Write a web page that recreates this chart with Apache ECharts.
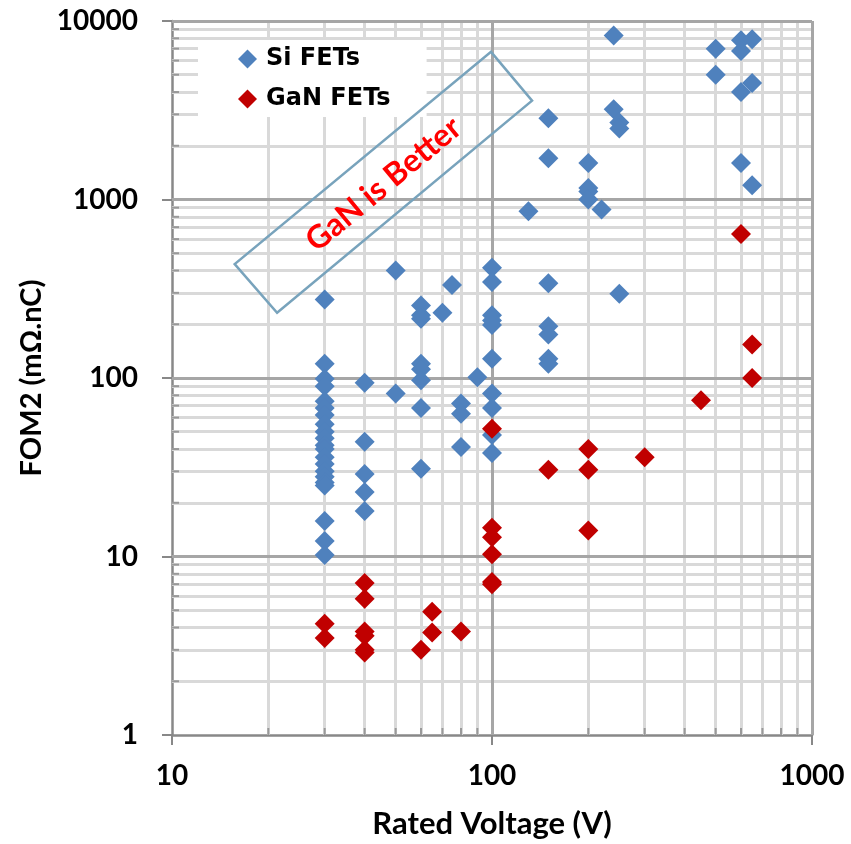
<!DOCTYPE html>
<html>
<head>
<meta charset="utf-8">
<script src="https://cdn.jsdelivr.net/npm/echarts@6/dist/echarts.min.js"></script>
<style>html,body{margin:0;padding:0;background:#fff}#chart{width:851px;height:844px}</style>
</head>
<body>
<div id="chart"></div>
<script>
// ---- data ----
const siVoltage = [
  30,30,30,30,30,30,30,30,30,30,30,30,30,30,30,30,30,30,30,30,30,
  40,40,40,40,40,
  50,50,
  60,60,60,60,60,60,60,60,
  70,
  75,
  80,80,80,
  90,
  100,100,100,100,100,100,100,100,100,100,
  130,
  150,150,150,150,150,150,150,
  200,200,200,200,
  220,
  240,240,
  250,250,250,
  500,500,
  600,600,600,600,
  650,650,650
];
const siFOM = [
  275,120,99,90,74,68,62,55,50,46,42,40,36,33,30,28,26,25,15.8,12.2,10.2,
  94,44,29,23,18,
  400,82,
  255,225,215,120,112,97,68,31,
  232,
  332,
  72,63,41,
  101,
  415,345,225,210,198,128,82,68,48,38,
  860,
  2850,1700,340,195,175,128,120,
  1600,1160,1110,1000,
  880,
  8300,3200,
  2700,2500,296,
  7000,5000,
  7800,6800,4000,1600,
  7900,4500,1200
];
const ganVoltage = [
  30,30,
  40,40,40,40,40,40,
  60,
  65,65,
  80,
  100,100,100,100,100,100,
  150,
  200,200,200,
  300,
  450,
  600,
  650,650
];
const ganFOM = [
  4.2,3.5,
  7.1,5.8,3.8,3.6,3.0,2.9,
  3.0,
  4.9,3.75,
  3.8,
  52,14.5,12.8,10.3,7.2,7.0,
  30.6,
  40,30.6,14,
  36,
  75,
  640,
  154,100
];
const seriesNames = ['Si FETs', 'GaN FETs'];
const xTickLabels = ['10', '100', '1000'];
const yTickLabels = ['1', '10', '100', '1000', '10000'];
const xMajorGrid = [100, 1000];
const yMajorGrid = [10, 100, 1000, 10000];
const xMinorGrid = [20,30,40,50,60,70,80,90,200,300,400,500,600,700,800,900];
const yMinorGrid = [2,3,4,5,6,7,8,9,20,30,40,50,60,70,80,90,200,300,400,500,600,700,800,900,2000,3000,4000,5000,6000,7000,8000,9000];
// annotation box corners (voltage, FOM) and its text
const boxVoltage = [99.3, 133.4, 21.3, 15.7];
const boxFOM = [6715, 3580, 232, 435];
const boxText = 'GaN is Better';

// ---- chart ----
const chart = echarts.init(document.getElementById('chart'), null, {renderer: 'canvas'});
const labelFont = {fontFamily: 'Lato, "Open Sans", sans-serif', fontWeight: 'bold', fontSize: 28, color: '#000'};
const gridLineBase = {silent: true, z: 1, symbol: ['none', 'none'], label: {show: false}, animation: false, emphasis: {disabled: true}};

const minorTickData = xMinorGrid.map(v => [v, 1, 0]).concat(yMinorGrid.map(v => [10, v, 1]));

const option = {
  animation: false,
  backgroundColor: '#fff',
  grid: {left: 172, right: 39, top: 21, bottom: 106, containLabel: false},
  legend: {
    data: seriesNames,
    orient: 'vertical',
    left: 198, top: 40,
    padding: [7, 36, 6, 40],
    backgroundColor: '#fff',
    itemGap: 16,
    itemWidth: 19, itemHeight: 19,
    icon: 'diamond',
    z: 4,
    textStyle: {fontFamily: '"DejaVu Sans", sans-serif', fontWeight: 'bold', fontSize: 24, lineHeight: 24, color: '#000', padding: [0, 0, 0, 4]}
  },
  xAxis: {
    type: 'log', logBase: 10, min: 10, max: 1000,
    name: 'Rated Voltage (V)', nameLocation: 'middle', nameGap: 73,
    nameTextStyle: {fontFamily: 'Lato, "Open Sans", sans-serif', fontWeight: 'bold', fontSize: 31, color: '#000'},
    axisLine: {show: true, onZero: false, lineStyle: {color: '#888', width: 2.5}},
    axisTick: {show: true, inside: false, length: 10, lineStyle: {color: '#888', width: 2}},
    axisLabel: Object.assign({margin: 27, formatter: v => xTickLabels.find(t => +t === Math.round(v)) || ''}, labelFont),
    splitLine: {show: false}
  },
  yAxis: {
    type: 'log', logBase: 10, min: 1, max: 10000,
    name: 'FOM2 (mΩ.nC)', nameLocation: 'middle', nameGap: 124,
    nameTextStyle: {fontFamily: 'Lato, "Open Sans", sans-serif', fontWeight: 'bold', fontSize: 29, color: '#000'},
    axisLine: {show: true, onZero: false, lineStyle: {color: '#888', width: 2.5}},
    axisTick: {show: true, inside: false, length: 10, lineStyle: {color: '#888', width: 2}},
    axisLabel: Object.assign({margin: 34, formatter: v => yTickLabels.find(t => +t === Math.round(v)) || ''}, labelFont),
    splitLine: {show: false}
  },
  series: [
    {
      type: 'line', name: 'minorGrid', data: [], silent: true, z: 1,
      markLine: Object.assign({}, gridLineBase, {
        lineStyle: {color: '#D9D9D9', width: 3, type: 'solid'},
        data: xMinorGrid.map(v => ({xAxis: v})).concat(yMinorGrid.map(v => ({yAxis: v})))
      })
    },
    {
      type: 'line', name: 'majorGrid', data: [], silent: true, z: 1,
      markLine: Object.assign({}, gridLineBase, {
        lineStyle: {color: '#A6A6A6', width: 3, type: 'solid'},
        data: xMajorGrid.map(v => ({xAxis: v})).concat(yMajorGrid.map(v => ({yAxis: v})))
      })
    },
    {
      type: 'custom', name: 'minorTicks', silent: true, z: 2, clip: false,
      data: minorTickData,
      encode: {x: 0, y: 1},
      renderItem: function (params, api) {
        const p = api.coord([api.value(0), api.value(1)]);
        const kind = api.value(2);
        const end = kind === 0 ? [p[0], p[1] - 7] : [p[0] + 7, p[1]];
        return {type: 'line', shape: {x1: p[0], y1: p[1], x2: end[0], y2: end[1]},
                style: {stroke: '#999', lineWidth: 2}};
      }
    },
    {
      type: 'scatter', name: seriesNames[0], symbol: 'diamond', symbolSize: 20, z: 3,
      itemStyle: {color: '#4F81BD', opacity: 1},
      data: siVoltage.map((v, i) => [v, siFOM[i]])
    },
    {
      type: 'scatter', name: seriesNames[1], symbol: 'diamond', symbolSize: 20, z: 3,
      itemStyle: {color: '#C00000', opacity: 1},
      data: ganVoltage.map((v, i) => [v, ganFOM[i]])
    },
    {
      type: 'custom', name: 'annotation', silent: true, z: 6, clip: false,
      data: [[boxVoltage[0], boxFOM[0]]],
      encode: {x: 0, y: 1},
      renderItem: function (params, api) {
        const pts = boxVoltage.map((v, i) => api.coord([v, boxFOM[i]]));
        const cx = pts.reduce((s, p) => s + p[0], 0) / pts.length;
        const cy = pts.reduce((s, p) => s + p[1], 0) / pts.length;
        const ang = Math.atan2(pts[3][1] - pts[0][1], pts[0][0] - pts[3][0]);
        return {
          type: 'group',
          children: [
            {type: 'polygon', shape: {points: pts},
             style: {fill: 'none', stroke: '#78A3BC', lineWidth: 2.5}},
            {type: 'text', x: cx, y: cy + 2, rotation: ang,
             style: {text: boxText, fill: '#FF0000', fontSize: 32, fontWeight: 'bold', fontFamily: 'Lato, "Open Sans", sans-serif',
                     align: 'center', verticalAlign: 'middle', textAlign: 'center', textVerticalAlign: 'middle'}}
          ]
        };
      }
    }
  ]
};
chart.setOption(option);
</script>
</body>
</html>
